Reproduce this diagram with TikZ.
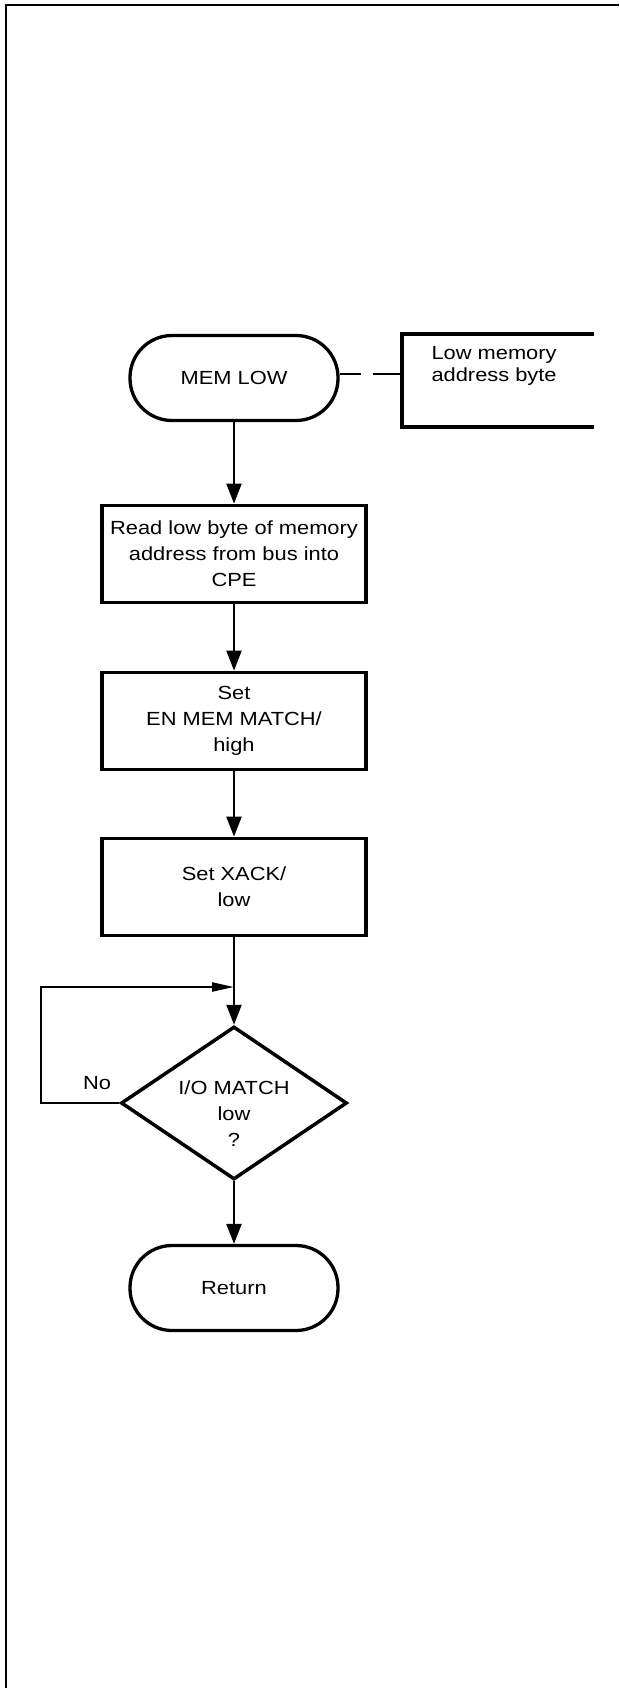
\documentclass[tikz,border=0pt]{standalone}
\usepackage{fontspec}
\setmainfont{Liberation Sans}[FakeStretch=1.15]
\usetikzlibrary{shapes.geometric,arrows.meta}

\begin{document}
\begin{tikzpicture}[x=1pt,y=-1pt,
  every node/.style={font=\fontsize{19}{26}\selectfont},
  term/.style={draw,line width=3.3pt,rounded corners=42pt,minimum width=208pt,minimum height=85pt},
  proc/.style={draw,line width=3.8pt,minimum width=264pt,minimum height=97pt,align=center},
  decision/.style={draw,diamond,line width=3.5pt,aspect=1.48,inner sep=0pt,minimum width=226pt,minimum height=153pt,align=center},
  flow/.style={line width=2.2pt,-{Triangle[length=20pt,width=15pt]}}]

\useasboundingbox (0,0) rectangle (619,1688);
\draw [line width=2.8pt](6,1688) -- (6,5) -- (619,5);

\node [term] (memlow) at (234,378) {MEM LOW};
\draw [line width=3.5pt](594,334) -- (402,334) -- (402,427) -- (594,427);
\coordinate (brk) at (402,374);
\node [anchor=west,align=left,font=\fontsize{19}{22}\selectfont] (note) at (428,366) {Low memory\\address byte};
\draw [line width=2.2pt,dash pattern=on 29pt off 12pt](brk) -- (brk -| memlow.east);

\node [proc] (readlow) at (234,554) {Read low byte of memory\\address from bus into\\CPE};
\node [proc] (setmem) at (234,721) {Set\\EN MEM MATCH/\\high};
\node [proc] (setxack) at (234,887) {Set XACK/\\low};
\node [decision,inner xsep=-8pt,text height=86pt,text depth=-32pt] (iomatch) at (234,1103) {I/O MATCH\\low\\?};
\node [term] (ret) at (234,1288) {Return};
\node (no) at (97,1083) {No};
\coordinate (loop) at (41,987);

\draw [flow](memlow) -- (readlow);
\draw [flow](readlow) -- (setmem);
\draw [flow](setmem) -- (setxack);
\draw [flow](setxack) -- (iomatch);
\draw [flow](iomatch) -- (ret);
\draw [line width=2.2pt,-{Triangle[length=22pt,width=9pt]}](iomatch.west) -- (iomatch.west -| loop) -- (loop) -- (loop -| iomatch.north);
\end{tikzpicture}
\end{document}
